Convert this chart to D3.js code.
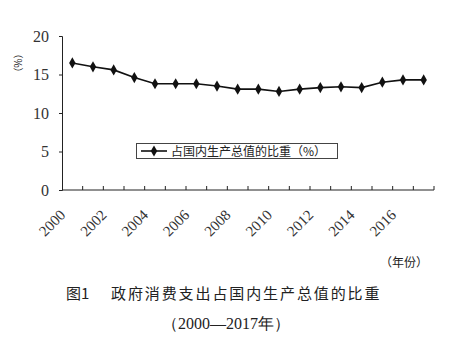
<!DOCTYPE html>
<html>
<head>
<meta charset="utf-8">
<script src="https://cdn.jsdelivr.net/npm/d3@7/dist/d3.min.js"></script>
<style>
  html, body { margin: 0; padding: 0; background: #ffffff; }
  svg { display: block; }
</style>
</head>
<body>
<svg id="chart" width="456" height="340"></svg>
<script>
// Years on the category axis
const years = [2000, 2001, 2002, 2003, 2004, 2005, 2006, 2007, 2008, 2009,
               2010, 2011, 2012, 2013, 2014, 2015, 2016, 2017];
// Government consumption as share of GDP (%)
const shareValues = [16.5, 16.0, 15.6, 14.6, 13.8, 13.8, 13.8, 13.5, 13.1, 13.1,
                     12.8, 13.1, 13.3, 13.4, 13.3, 14.0, 14.3, 14.3];
// Tick labels
const yTicks = [0, 5, 10, 15, 20];
const xLabelYears = [2000, 2002, 2004, 2006, 2008, 2010, 2012, 2014, 2016];
const legendLabel = "占国内生产总值的比重（%）";
const yUnitLabel = "（%）";
const xUnitLabel = "（年份）";
const figNo = "图1";
const titleLine1 = "政府消费支出占国内生产总值的比重";
const titleLine2 = "（2000—2017年）";

const svg = d3.select("#chart");
const serif = "'Liberation Serif', 'DejaVu Serif', serif";
const cjk = "'Noto Sans CJK SC', sans-serif";

const plotLeft = 62, plotRight = 434, plotTop = 36, plotBottom = 190;

const x = d3.scaleBand().domain(years).range([plotLeft, plotRight]).padding(0);
const y = d3.scaleLinear().domain([0, 20]).range([plotBottom, plotTop]);

// Y axis: outward ticks, serif numbers
const yAxis = svg.append("g")
  .attr("transform", `translate(${plotLeft},0)`)
  .call(d3.axisLeft(y).tickValues(yTicks).tickSize(3).tickPadding(10).tickFormat(d3.format("d")));
yAxis.select(".domain").attr("stroke", "#222").attr("stroke-width", 1);
yAxis.selectAll(".tick line").attr("stroke", "#222");
yAxis.selectAll(".tick text")
  .attr("font-family", serif).attr("font-size", 16).attr("fill", "#333");
yAxis.selectAll(".tick").filter(d => d === 0).select("line").remove();

// X axis line with inward ticks at band edges
const xg = svg.append("g");
xg.append("line")
  .attr("x1", plotLeft).attr("x2", plotRight).attr("y1", plotBottom).attr("y2", plotBottom)
  .attr("stroke", "#222").attr("stroke-width", 1);
const edges = years.map(d => x(d)).concat([x(years[years.length - 1]) + x.bandwidth()]);
xg.selectAll("line.edge").data(edges.slice(1)).enter().append("line")
  .attr("class", "edge")
  .attr("x1", d => d).attr("x2", d => d)
  .attr("y1", plotBottom).attr("y2", plotBottom - 4)
  .attr("stroke", "#222").attr("stroke-width", 1);

// Rotated year labels
xg.selectAll("text.year").data(xLabelYears).enter().append("text")
  .attr("class", "year")
  .attr("transform", d => `translate(${x(d) + x.bandwidth() / 2 - 6},${plotBottom + 26}) rotate(-45)`)
  .attr("text-anchor", "end")
  .attr("font-family", serif).attr("font-size", 15).attr("fill", "#333")
  .text(d => d);

// Series line and diamond markers
const pts = years.map((d, i) => [x(d) + x.bandwidth() / 2, y(shareValues[i])]);
svg.append("path")
  .attr("d", d3.line()(pts))
  .attr("fill", "none").attr("stroke", "#111").attr("stroke-width", 1.6);
const diamond = d3.symbol().type(d3.symbolDiamond).size(36);
svg.selectAll("path.marker").data(pts).enter().append("path")
  .attr("class", "marker")
  .attr("transform", d => `translate(${d[0]},${d[1]})`)
  .attr("d", diamond).attr("fill", "#111");

// Legend box
const lg = svg.append("g");
lg.append("rect").attr("x", 136.5).attr("y", 143.5).attr("width", 201).attr("height", 15)
  .attr("fill", "#fff").attr("stroke", "#444").attr("stroke-width", 1);
lg.append("line").attr("x1", 141).attr("x2", 167).attr("y1", 151).attr("y2", 151)
  .attr("stroke", "#111").attr("stroke-width", 1.6);
lg.append("path").attr("transform", "translate(154,151)").attr("d", diamond).attr("fill", "#111");
lg.append("text").attr("x", 171).attr("y", 155.5)
  .attr("font-family", cjk).attr("font-size", 12).attr("fill", "#222")
  .text(legendLabel);

// Unit labels
svg.append("text")
  .attr("transform", "translate(18,63) rotate(90)")
  .attr("text-anchor", "middle").attr("dominant-baseline", "central")
  .attr("font-family", cjk).attr("font-size", 10).attr("fill", "#222")
  .text(yUnitLabel);
svg.append("text").attr("x", 380).attr("y", 267)
  .attr("font-family", cjk).attr("font-size", 12).attr("fill", "#222")
  .text(xUnitLabel);

// Figure caption
svg.append("text").attr("x", 66).attr("y", 299)
  .attr("font-family", cjk).attr("font-size", 15).attr("fill", "#222")
  .text(figNo);
svg.append("text").attr("x", 111).attr("y", 299)
  .attr("font-family", cjk).attr("font-size", 15).attr("letter-spacing", 1.9).attr("fill", "#222")
  .text(titleLine1);
svg.append("text").attr("x", 162).attr("y", 329)
  .attr("font-family", serif).attr("font-size", 16).attr("fill", "#222")
  .text(titleLine2);
</script>
</body>
</html>
